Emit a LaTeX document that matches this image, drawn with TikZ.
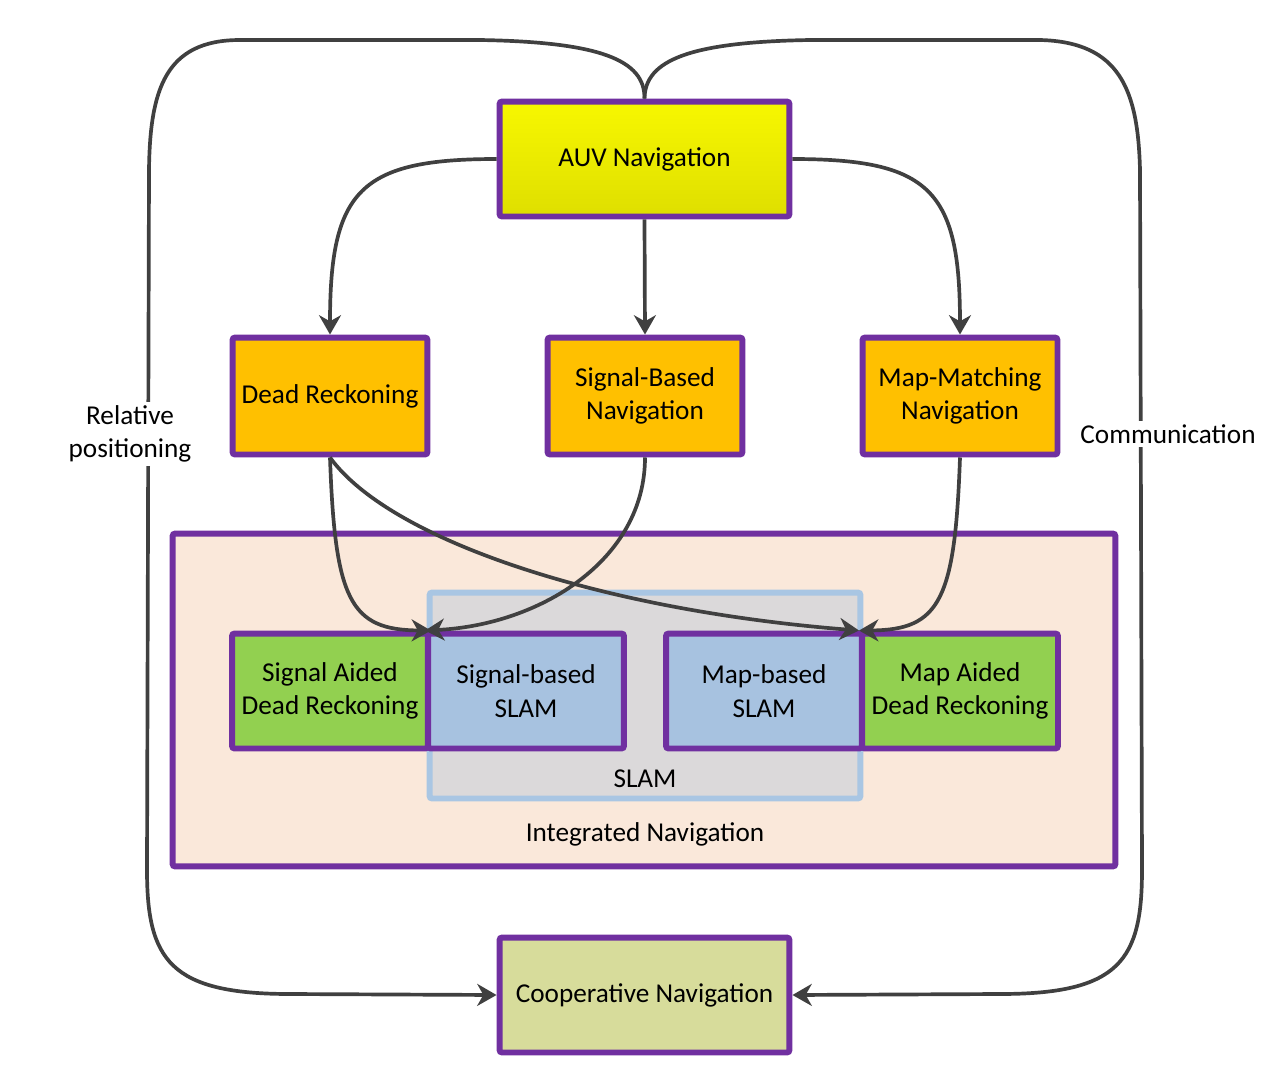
\documentclass[tikz,border=0pt]{standalone}
\usepackage{fontspec}
\setmainfont{Carlito}
\usetikzlibrary{arrows.meta}

\definecolor{navpurple}{HTML}{7030A0}
\definecolor{linkgrey}{HTML}{404040}
\definecolor{auvyellow}{HTML}{F2F200}
\definecolor{methodorange}{HTML}{FFC000}
\definecolor{aidgreen}{HTML}{92D050}
\definecolor{slamfill}{HTML}{A7C2E0}
\definecolor{slamframe}{HTML}{A9C6E3}
\definecolor{slamgrey}{HTML}{DBD9DA}
\definecolor{integpeach}{HTML}{FAE8DA}
\definecolor{coopolive}{HTML}{D7DC9B}

\begin{document}
\begin{tikzpicture}
  [x=0.02cm,y=-0.02cm,
   every node/.style={font=\fontsize{15.5}{19}\selectfont},
   box/.style={draw=navpurple,line width=3.4pt,rounded corners=1.5pt,inner sep=0pt,
     minimum width=3.9cm,minimum height=2.34cm,align=center},
   link/.style={draw=linkgrey,line width=2.1pt,
     -{Stealth[length=11pt,width=12.5pt,inset=3.5pt]}}]
  \useasboundingbox (0,0) rectangle (1276,1076);

  % integrated navigation and slam frames
  \node[box,fill=integpeach,minimum width=18.86cm,minimum height=6.66cm] (integ) at (644,700) {};
  \node (integlbl) at (645,834) {Integrated Navigation};
  \node[box,draw=slamframe,fill=slamgrey,minimum width=8.62cm,minimum height=4.12cm] (slam) at (645,695.5) {};
  \node (slamlbl) at (645,779) {SLAM};

  \node[box,fill=aidgreen,minimum width=3.92cm,minimum height=2.3cm] (sadr) at (330,691) {Signal Aided\\Dead Reckoning};
  \node[box,fill=slamfill,minimum width=3.92cm,minimum height=2.3cm] (sslam) at (526,691) {Signal-based\\SLAM};
  \node[box,fill=slamfill,minimum width=3.92cm,minimum height=2.3cm] (mslam) at (764,691) {Map-based\\SLAM};
  \node[box,fill=aidgreen,minimum width=3.92cm,minimum height=2.3cm] (madr) at (960,691) {Map Aided\\Dead Reckoning};

  % top and bottom
  \node[box,top color=auvyellow!60!yellow,bottom color=auvyellow!92!black,minimum width=5.8cm,minimum height=2.3cm] (auv) at (644.5,159) {AUV Navigation};
  \node[box,fill=methodorange] (dr) at (330,396) {Dead Reckoning};
  \node[box,fill=methodorange] (sbn) at (645,396) {Signal-Based\\Navigation};
  \node[box,fill=methodorange] (mmn) at (960,396) {Map-Matching\\Navigation};
  \node[box,fill=coopolive,minimum width=5.8cm,minimum height=2.3cm] (coop) at (644.5,995) {Cooperative Navigation};

  \draw[link] (auv.west) .. controls (360,159) and (330,190) .. (dr.north);
  \draw[link] (auv.south) -- (sbn.north);
  \draw[link] (auv.east) .. controls (930,159) and (960,190) .. (mmn.north);

  \draw[link] (dr.south) .. controls (335,600) and (350,630) .. (sadr.north east);
  \draw[link] (sbn.south) .. controls (645,560) and (540,625) .. (sslam.north west);
  \draw[link] (dr.south) .. controls (390,540) and (600,610) .. (madr.north west);
  \draw[link] (mmn.south) .. controls (955,600) and (940,630) .. (madr.north west);

  % cooperative loops
  \draw[link] (auv.north) .. controls (645,60) and (600,42) .. (480,40) -- (240,40)
    .. controls (165,40) and (150,90) .. (149,170) -- (147,870)
    .. controls (147,960) and (170,994) .. (290,994) -- (coop.west);
  \draw[link] (auv.north) .. controls (645,60) and (690,42) .. (810,40) -- (1040,40)
    .. controls (1120,42) and (1138,90) .. (1140,170) -- (1142,870)
    .. controls (1142,960) and (1120,994) .. (1000,994) -- (coop.east);

  \node[fill=white,inner sep=2pt,align=center] (rel) at (130,434) {Relative\\positioning};
  \node[fill=white,inner sep=2pt] (comm) at (1168,434) {Communication};

\end{tikzpicture}
\end{document}
